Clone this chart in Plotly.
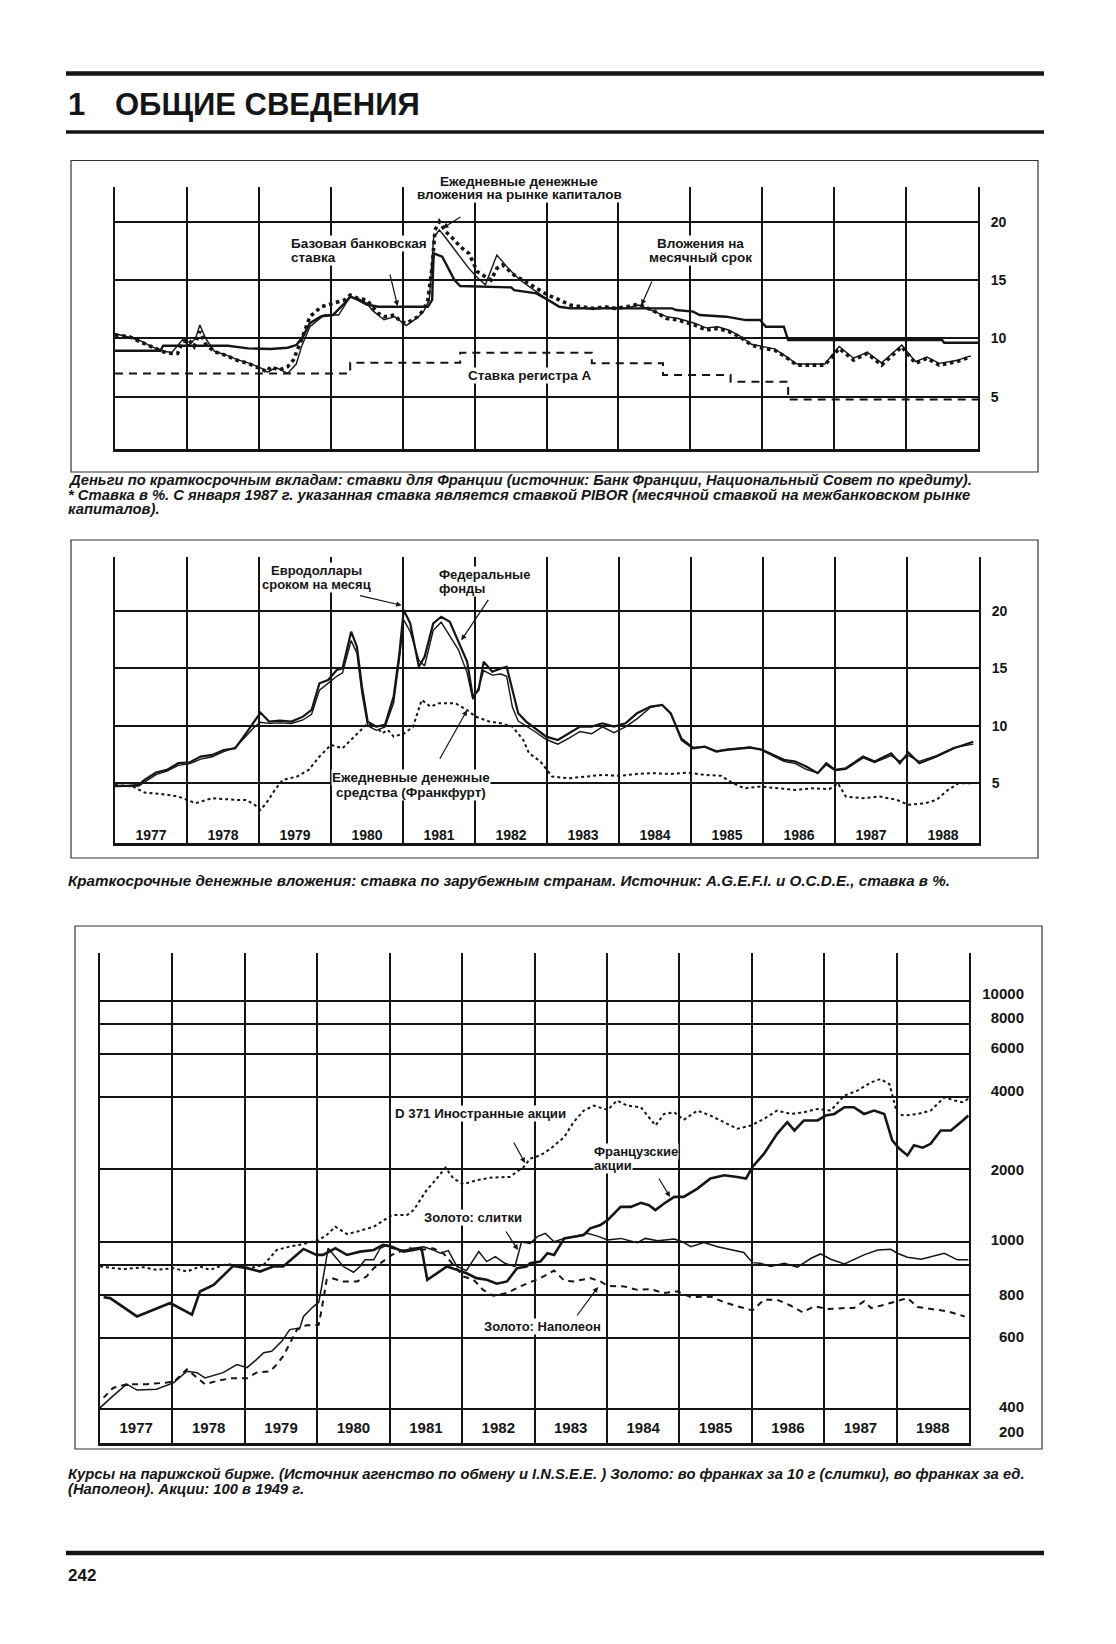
import plotly.graph_objects as go

W, H = 1116, 1644
OFF = 8  # browser body margin compensation
def px(x): return (x - OFF) / W
def py(y): return 1 - (y - OFF) / H

INK = "#151515"
FONT = "Liberation Sans, Arial, Helvetica, sans-serif"
NARROW = "Liberation Sans Narrow, Arial Narrow, Liberation Sans, Arial, sans-serif"

# ---------------- shared axis data ----------------
year_grid = list(range(1978, 1989))
year_mid = [y + 0.5 for y in range(1977, 1989)]
year_labels = [str(y) for y in range(1977, 1989)]
rate_ticks = [5, 10, 15, 20]
rate_labels = ["5", "10", "15", "20"]

# ---------------- chart 1: France ----------------
c1_money_market = [(1977.00,10.29),(1977.20,10.14),(1977.35,9.71),(1977.51,9.29),(1977.67,8.86),(1977.79,8.71),(1977.87,8.71),(1977.94,9.71),(1978.02,9.9),(1978.10,9.3),(1978.18,10.6),(1978.26,9.5),(1978.38,8.86),(1978.53,8.57),(1978.69,8.14),(1978.85,7.86),(1979.02,7.43),(1979.12,7.14),(1979.16,7.57),(1979.28,7.29),(1979.40,7.57),(1979.48,8.14),(1979.60,10.0),(1979.71,11.86),(1979.87,12.71),(1980.03,13.0),(1980.19,13.29),(1980.27,13.71),(1980.38,13.43),(1980.50,13.29),(1980.58,12.71),(1980.66,12.14),(1980.74,11.86),(1980.89,12.0),(1980.97,11.43),(1981.05,11.29),(1981.13,11.57),(1981.21,11.86),(1981.29,12.43),(1981.35,13.29),(1981.41,16.14),(1981.45,19.29),(1981.51,20.0),(1981.60,19.14),(1981.72,18.43),(1981.80,17.86),(1981.92,17.29),(1982.04,15.71),(1982.15,15.29),(1982.23,15.0),(1982.31,16.0),(1982.39,16.3),(1982.55,15.43),(1982.70,14.86),(1982.86,14.29),(1983.02,13.71),(1983.18,13.29),(1983.33,12.86),(1983.49,12.71),(1983.65,12.57),(1983.81,12.71),(1983.96,12.57),(1984.12,12.71),(1984.28,12.94),(1984.36,12.71),(1984.51,12.29),(1984.67,11.71),(1984.83,11.57),(1985.06,11.14),(1985.22,10.71),(1985.38,10.86),(1985.54,10.57),(1985.69,10.14),(1985.85,9.43),(1986.01,9.14),(1986.17,9.0),(1986.32,8.43),(1986.48,7.71),(1986.64,7.71),(1986.87,7.71),(1987.07,9.14),(1987.27,8.14),(1987.46,8.71),(1987.66,7.71),(1987.94,9.29),(1988.13,7.86),(1988.29,8.29),(1988.46,7.71),(1988.70,8.0),(1988.90,8.43)]
c1_monthly = [(1977.00,10.4),(1977.20,10.1),(1977.35,9.8),(1977.51,9.3),(1977.67,8.9),(1977.79,8.8),(1977.94,9.9),(1978.02,9.4),(1978.12,10.0),(1978.18,11.14),(1978.26,10.0),(1978.38,8.9),(1978.53,8.6),(1978.69,8.2),(1978.85,7.9),(1979.02,7.5),(1979.12,7.1),(1979.24,7.5),(1979.40,7.0),(1979.52,7.8),(1979.60,9.4),(1979.71,11.0),(1979.91,12.0),(1980.11,12.0),(1980.27,13.57),(1980.38,13.43),(1980.50,13.0),(1980.58,12.4),(1980.74,11.6),(1980.89,11.86),(1981.05,11.1),(1981.21,11.8),(1981.29,12.3),(1981.37,13.3),(1981.43,18.6),(1981.51,19.3),(1981.60,18.6),(1981.72,17.6),(1981.80,16.9),(1981.92,16.0),(1982.04,15.2),(1982.15,14.6),(1982.31,17.14),(1982.47,16.0),(1982.63,15.0),(1982.86,14.0),(1983.02,13.3),(1983.18,12.7),(1983.33,12.6),(1983.49,12.6),(1983.65,12.5),(1983.81,12.6),(1983.96,12.57),(1984.12,12.6),(1984.28,12.86),(1984.51,12.3),(1984.67,11.86),(1984.83,11.7),(1985.06,11.3),(1985.22,10.9),(1985.38,11.0),(1985.54,10.7),(1985.69,10.2),(1985.85,9.5),(1986.01,9.3),(1986.17,9.1),(1986.32,8.5),(1986.48,7.8),(1986.64,7.8),(1986.87,7.8),(1987.07,9.3),(1987.27,8.3),(1987.46,8.8),(1987.66,7.9),(1987.94,9.43),(1988.13,8.0),(1988.29,8.4),(1988.46,7.86),(1988.70,8.1),(1988.90,8.5)]
c1_base_rate = [(1977.00,8.94),(1977.63,8.94),(1977.67,9.37),(1978.57,9.37),(1978.85,9.14),(1979.16,9.09),(1979.40,9.2),(1979.52,9.43),(1979.60,10.0),(1979.71,11.3),(1979.87,11.9),(1980.03,12.0),(1980.19,13.0),(1980.27,13.57),(1980.38,13.3),(1980.50,12.9),(1980.66,12.71),(1981.35,12.71),(1981.41,13.3),(1981.43,17.29),(1981.55,17.0),(1981.64,16.0),(1981.72,15.0),(1981.80,14.49),(1982.51,14.37),(1982.55,14.14),(1982.86,13.86),(1983.02,13.3),(1983.18,12.71),(1983.33,12.57),(1984.75,12.57),(1984.80,12.43),(1985.04,12.29),(1985.13,12.0),(1985.50,11.86),(1985.77,11.57),(1985.97,11.57),(1986.05,11.0),(1986.30,11.0),(1986.36,9.86),(1988.50,9.86),(1988.53,9.63),(1989.00,9.63)]
c1_register_a = [(1977.0,7.0),(1980.27,7.91),(1981.80,8.77),(1983.63,7.86),(1984.62,6.86),(1985.56,6.29),(1986.36,4.77),(1989.0,4.77)]

# ---------------- chart 2: foreign rates ----------------
c2_eurodollar = [(1977.00,4.77),(1977.17,4.77),(1977.33,4.85),(1977.41,5.29),(1977.57,5.93),(1977.72,6.16),(1977.88,6.74),(1978.04,6.82),(1978.19,7.32),(1978.35,7.46),(1978.51,7.89),(1978.67,8.04),(1978.82,9.34),(1978.94,10.36),(1979.02,11.14),(1979.14,10.36),(1979.29,10.44),(1979.45,10.36),(1979.61,10.79),(1979.73,11.37),(1979.84,13.69),(1979.96,13.98),(1980.08,14.85),(1980.16,14.99),(1980.28,18.18),(1980.36,16.87),(1980.43,13.4),(1980.51,10.36),(1980.63,9.92),(1980.75,10.07),(1980.87,12.53),(1980.95,16.3),(1981.01,20.06),(1981.10,18.9),(1981.22,15.13),(1981.30,16.0),(1981.42,18.9),(1981.53,19.48),(1981.65,19.04),(1981.77,17.3),(1981.89,15.57),(1981.97,12.53),(1982.05,13.1),(1982.12,15.57),(1982.24,14.7),(1982.36,14.99),(1982.44,15.13),(1982.52,13.1),(1982.60,11.08),(1982.71,10.36),(1982.83,9.78),(1982.99,9.05),(1983.15,8.76),(1983.30,9.34),(1983.46,9.92),(1983.62,9.92),(1983.77,10.21),(1983.93,9.92),(1984.09,10.21),(1984.25,11.08),(1984.44,11.66),(1984.60,11.8),(1984.72,11.08),(1984.87,8.76),(1985.03,8.04),(1985.19,8.18),(1985.35,7.75),(1985.50,7.9),(1985.82,8.1),(1985.97,7.95),(1986.13,7.46),(1986.29,7.03),(1986.45,6.88),(1986.60,6.45),(1986.76,5.87),(1986.88,6.74),(1987.00,6.16),(1987.15,6.3),(1987.39,7.32),(1987.55,6.88),(1987.78,7.6),(1987.90,6.74),(1988.02,7.66),(1988.17,6.74),(1988.41,7.32),(1988.65,8.04),(1988.92,8.6)]
c2_fed_funds = [(1977.00,4.7),(1977.17,4.7),(1977.33,4.75),(1977.41,5.1),(1977.57,5.75),(1977.72,6.05),(1977.88,6.55),(1978.04,6.7),(1978.19,7.1),(1978.35,7.3),(1978.51,7.75),(1978.67,8.1),(1978.82,9.1),(1978.94,9.9),(1979.02,10.3),(1979.14,10.2),(1979.29,10.25),(1979.45,10.2),(1979.61,10.5),(1979.73,11.0),(1979.84,13.1),(1979.96,13.7),(1980.08,14.3),(1980.16,14.6),(1980.28,17.4),(1980.36,16.3),(1980.43,12.8),(1980.51,10.0),(1980.63,9.6),(1980.75,9.9),(1980.87,12.0),(1980.95,15.8),(1981.01,19.2),(1981.10,18.2),(1981.22,15.7),(1981.30,15.2),(1981.42,18.3),(1981.53,19.0),(1981.65,17.8),(1981.77,16.6),(1981.89,14.6),(1981.97,12.3),(1982.05,13.3),(1982.12,14.8),(1982.24,14.4),(1982.36,14.5),(1982.44,14.3),(1982.52,11.6),(1982.60,10.4),(1982.71,10.0),(1982.83,9.5),(1982.99,8.8),(1983.15,8.4),(1983.30,8.9),(1983.46,9.5),(1983.62,9.3),(1983.77,9.9),(1983.93,9.4),(1984.09,9.9),(1984.25,10.6),(1984.44,11.6),(1984.60,11.8),(1984.72,11.0),(1984.87,8.9),(1985.03,8.1),(1985.19,8.2),(1985.35,7.8),(1985.50,7.95),(1985.82,8.15),(1985.97,7.9),(1986.13,7.4),(1986.29,6.9),(1986.45,6.7),(1986.60,6.2),(1986.76,5.9),(1986.88,6.6),(1987.00,6.1),(1987.15,6.2),(1987.39,7.2),(1987.55,6.8),(1987.78,7.4),(1987.90,6.9),(1988.02,7.4),(1988.17,6.9),(1988.41,7.4),(1988.65,8.1),(1988.92,8.4)]
c2_frankfurt = [(1977.00,4.85),(1977.25,4.71),(1977.41,4.19),(1977.64,4.07),(1977.88,3.84),(1978.12,3.26),(1978.35,3.70),(1978.51,3.61),(1978.67,3.55),(1978.82,3.55),(1978.94,3.12),(1979.02,2.68),(1979.10,3.26),(1979.22,4.42),(1979.33,5.29),(1979.53,5.58),(1979.69,6.16),(1979.84,7.32),(1980.00,8.33),(1980.16,8.04),(1980.32,9.05),(1980.51,10.21),(1980.63,9.92),(1980.71,9.34),(1980.79,9.63),(1980.87,9.05),(1981.02,9.34),(1981.14,9.92),(1981.26,12.24),(1981.38,11.66),(1981.50,11.95),(1981.73,11.95),(1981.89,11.37),(1982.01,10.79),(1982.20,10.36),(1982.36,10.21),(1982.52,9.92),(1982.67,8.76),(1982.75,7.6),(1982.91,6.88),(1983.07,5.58),(1983.30,5.43),(1983.54,5.58),(1983.77,5.72),(1984.01,5.64),(1984.25,5.81),(1984.48,5.87),(1984.72,5.81),(1984.95,5.93),(1985.19,5.72),(1985.42,5.64),(1985.58,5.0),(1985.74,4.56),(1985.97,4.71),(1986.21,4.56),(1986.45,4.42),(1986.68,4.56),(1986.92,4.48),(1987.04,5.0),(1987.15,3.84),(1987.39,3.70),(1987.62,3.84),(1987.86,3.55),(1988.02,3.12),(1988.25,3.26),(1988.41,3.55),(1988.57,4.42),(1988.72,5.0),(1988.92,5.0)]

# ---------------- chart 3: Paris bourse and gold ----------------
c3_foreign_stocks = [(1977.00,791),(1977.32,771),(1977.60,786),(1977.78,766),(1978.02,778),(1978.20,754),(1978.38,791),(1978.52,766),(1978.75,811),(1978.93,791),(1979.07,778),(1979.26,804),(1979.44,927),(1979.62,957),(1979.81,981),(1980.02,1019),(1980.13,1069),(1980.25,1157),(1980.41,1079),(1980.55,1104),(1980.78,1157),(1981.03,1293),(1981.24,1293),(1981.33,1356),(1981.51,1640),(1981.65,1833),(1981.77,2036),(1981.88,1833),(1982.02,1738),(1982.20,1803),(1982.39,1849),(1982.66,1862),(1982.85,2047),(1982.94,2216),(1983.08,2287),(1983.22,2437),(1983.41,2723),(1983.54,3143),(1983.68,3508),(1983.82,3679),(1984.01,3531),(1984.14,3862),(1984.28,3679),(1984.47,3622),(1984.60,3242),(1984.67,3045),(1984.79,3398),(1984.93,3453),(1985.06,3211),(1985.25,3508),(1985.43,3346),(1985.62,3143),(1985.80,2950),(1985.99,3045),(1986.17,3242),(1986.35,3508),(1986.54,3398),(1986.72,3453),(1986.91,3566),(1987.09,3508),(1987.28,4049),(1987.46,4249),(1987.65,4596),(1987.78,4744),(1987.90,4523),(1988.01,3398),(1988.11,3346),(1988.29,3398),(1988.47,3508),(1988.66,3985),(1988.80,3862),(1988.91,3801),(1988.99,3924)]
c3_french_stocks = [(1977.05,590),(1977.14,585),(1977.51,491),(1977.97,558),(1978.27,499),(1978.38,623),(1978.57,664),(1978.84,796),(1979.03,779),(1979.21,754),(1979.39,791),(1979.53,791),(1979.81,936),(1979.99,884),(1980.08,884),(1980.25,942),(1980.41,884),(1980.59,912),(1980.78,927),(1980.91,972),(1981.03,956),(1981.19,912),(1981.33,927),(1981.44,942),(1981.52,697),(1981.65,742),(1981.79,791),(1981.93,766),(1982.06,742),(1982.20,708),(1982.34,697),(1982.48,671),(1982.62,686),(1982.76,779),(1982.89,791),(1982.94,816),(1983.08,829),(1983.18,898),(1983.27,884),(1983.41,1035),(1983.54,1052),(1983.68,1069),(1983.77,1139),(1983.91,1175),(1984.01,1233),(1984.19,1399),(1984.33,1399),(1984.47,1454),(1984.58,1422),(1984.67,1356),(1984.79,1445),(1984.93,1539),(1985.06,1539),(1985.25,1666),(1985.43,1833),(1985.62,1892),(1985.80,1862),(1985.92,1833),(1986.01,2047),(1986.17,2324),(1986.35,2810),(1986.49,3143),(1986.59,2902),(1986.72,3193),(1986.91,3193),(1987.02,3346),(1987.14,3398),(1987.28,3622),(1987.41,3622),(1987.55,3398),(1987.69,3508),(1987.83,3398),(1987.94,2638),(1988.04,2437),(1988.15,2287),(1988.24,2517),(1988.36,2461),(1988.47,2555),(1988.61,2902),(1988.75,2902),(1988.89,3143),(1988.99,3346)]
c3_gold_bullion = [(1977.00,205),(1977.18,230),(1977.37,257),(1977.51,243),(1977.78,245),(1978.02,261),(1978.20,291),(1978.34,287),(1978.45,273),(1978.70,287),(1978.89,310),(1979.03,301),(1979.16,325),(1979.26,347),(1979.37,352),(1979.51,387),(1979.62,433),(1979.76,440),(1979.81,491),(1979.95,541),(1980.02,562),(1980.06,650),(1980.15,942),(1980.25,870),(1980.36,791),(1980.50,749),(1980.59,791),(1980.66,843),(1980.78,843),(1980.87,942),(1980.96,972),(1981.03,942),(1981.19,921),(1981.33,942),(1981.47,956),(1981.60,927),(1981.70,898),(1981.81,921),(1981.93,791),(1982.06,761),(1982.23,912),(1982.34,829),(1982.46,870),(1982.59,816),(1982.73,791),(1982.82,1000),(1982.94,987),(1983.04,1052),(1983.15,1086),(1983.27,1003),(1983.41,1035),(1983.54,1052),(1983.73,1086),(1983.87,1058),(1984.01,1019),(1984.19,1035),(1984.42,994),(1984.53,1035),(1984.70,1013),(1984.93,1029),(1985.04,1003),(1985.16,956),(1985.34,994),(1985.53,956),(1985.71,927),(1985.89,904),(1986.01,821),(1986.12,816),(1986.26,791),(1986.45,816),(1986.63,786),(1986.82,856),(1986.95,892),(1987.09,848),(1987.28,811),(1987.41,848),(1987.55,884),(1987.74,927),(1987.92,933),(1988.01,898),(1988.15,864),(1988.34,848),(1988.47,870),(1988.66,898),(1988.84,843),(1988.99,843)]
c3_gold_napoleon = [(1977.05,226),(1977.18,248),(1977.37,257),(1977.64,257),(1977.92,261),(1978.02,263),(1978.20,296),(1978.45,257),(1978.61,265),(1978.80,272),(1979.03,272),(1979.16,287),(1979.35,291),(1979.44,310),(1979.53,336),(1979.62,381),(1979.72,433),(1979.85,451),(1980.02,453),(1980.06,524),(1980.13,697),(1980.20,708),(1980.36,686),(1980.55,686),(1980.68,719),(1980.78,779),(1980.91,829),(1981.03,884),(1981.14,912),(1981.28,942),(1981.42,927),(1981.60,942),(1981.74,898),(1981.88,803),(1982.02,719),(1982.16,697),(1982.29,633),(1982.43,598),(1982.62,614),(1982.80,654),(1982.94,679),(1983.08,708),(1983.27,761),(1983.41,692),(1983.54,686),(1983.77,708),(1983.91,686),(1984.01,658),(1984.24,654),(1984.42,633),(1984.60,637),(1984.79,614),(1984.97,624),(1985.16,590),(1985.43,594),(1985.62,562),(1985.80,541),(1986.01,520),(1986.17,576),(1986.35,576),(1986.54,544),(1986.70,511),(1986.86,541),(1987.05,527),(1987.28,532),(1987.41,532),(1987.55,567),(1987.65,532),(1987.83,549),(1988.01,567),(1988.15,585),(1988.29,537),(1988.47,527),(1988.70,516),(1988.94,491)]
c3_grid_values = [10000, 8000, 6000, 4000, 2000, 1000, 800, 600, 400, 203]
c3_label_values = [10690, 8550, 6400, 4250, 2000, 1020, 605, 404, 207, 163]
c3_label_text = ["10000", "8000", "6000", "4000", "2000", "1000", "800", "600", "400", "200"]

# ---------------- texts ----------------
title_num = "1"
title_text = "ОБЩИЕ СВЕДЕНИЯ"
cap1 = ["Деньги по краткосрочным вкладам: ставки для Франции (источник: Банк Франции, Национальный Совет по кредиту).",
        "* Ставка в %. С января 1987 г. указанная ставка является ставкой PIBOR (месячной ставкой на межбанковском рынке",
        "капиталов)."]
cap2 = ["Краткосрочные денежные вложения: ставка по зарубежным странам. Источник: A.G.E.F.I. и O.C.D.E., ставка в %."]
cap3 = ["Курсы на парижской бирже. (Источник агенство по обмену и I.N.S.E.E. ) Золото: во франках за 10 г (слитки), во франках за ед.",
        "(Наполеон). Акции: 100 в 1949 г."]
page_no = "242"

fig = go.Figure()

def unzip(pairs):
    return [p[0] for p in pairs], [p[1] for p in pairs]

def add(pairs, xa, ya, width, dash="solid", shape="linear"):
    x, y = unzip(pairs)
    fig.add_trace(go.Scatter(x=x, y=y, mode="lines", xaxis=xa, yaxis=ya,
                             line=dict(color=INK, width=width, dash=dash, shape=shape),
                             showlegend=False, hoverinfo="skip"))

add(c1_money_market, "x", "y", 3.6, dash="dot")
add(c1_monthly, "x", "y", 1.4)
add(c1_base_rate, "x", "y", 2.4)
add(c1_register_a, "x", "y", 2.0, dash="8px,6px", shape="hv")

add(c2_frankfurt, "x2", "y2", 2.0, dash="dot")
add(c2_fed_funds, "x2", "y2", 1.4)
add(c2_eurodollar, "x2", "y2", 2.2)

add(c3_foreign_stocks, "x3", "y3", 2.0, dash="dot")
add(c3_gold_bullion, "x3", "y3", 1.5)
add(c3_french_stocks, "x3", "y3", 2.6)
add(c3_gold_napoleon, "x4", "y4", 2.0, dash="6px,5px")

tickfont = dict(family=FONT, size=14, color=INK, weight="bold")
yearfont = dict(family=FONT, size=14, color=INK, weight="bold")

def xaxis_common(domain, anchor):
    return dict(domain=domain, anchor=anchor, range=[1977, 1989], zeroline=False,
                showline=True, linecolor=INK, linewidth=2.6, ticks="", fixedrange=True)

def yaxis_rate(domain, anchor, rng):
    return dict(domain=domain, anchor=anchor, range=rng, side="right",
                tickmode="array", tickvals=rate_ticks, ticktext=rate_labels,
                showgrid=True, gridcolor=INK, gridwidth=2.0, zeroline=False,
                showline=True, mirror=True, linecolor=INK, linewidth=1.8,
                ticks="", ticklabelstandoff=8, tickfont=tickfont, fixedrange=True)

x1 = xaxis_common([px(115), px(978)], "y")
x1.update(tickmode="array", tickvals=year_grid, showticklabels=False,
          showgrid=True, gridcolor=INK, gridwidth=1.6)
y1 = yaxis_rate([py(449), py(186.7)], "x", [0.52, 23.0])

x2 = xaxis_common([px(115), px(979)], "y2")
x2.update(tickmode="array", tickvals=year_mid, ticktext=year_labels,
          ticklabelposition="inside", showgrid=False, tickfont=yearfont,
          minor=dict(tickmode="array", tickvals=year_grid, showgrid=True,
                     gridcolor=INK, gridwidth=1.6, ticks=""))
y2 = yaxis_rate([py(843), py(556.7)], "x2", [-0.2, 24.7])

# chart 3: main axes carry the grid, overlay axes carry the year and value labels
x3 = xaxis_common([px(100), px(969)], "y3")
x3.update(tickmode="array", tickvals=year_grid, showticklabels=False,
          showgrid=True, gridcolor=INK, gridwidth=1.6)
x4 = dict(overlaying="x3", anchor="free", position=py(1409), side="bottom",
          range=[1977, 1989], tickmode="array", tickvals=year_mid, ticktext=year_labels,
          showgrid=False, zeroline=False, showline=False, ticks="", ticklabelstandoff=8,
          tickfont=dict(family=FONT, size=15, color=INK, weight="bold"), fixedrange=True)
c3_range = [2.166, 4.199]
y3 = dict(domain=[py(1443), py(953)], anchor="x3", type="log", range=c3_range,
          tickmode="array", tickvals=c3_grid_values, showticklabels=False,
          showgrid=True, gridcolor=INK, gridwidth=1.9, zeroline=False,
          showline=True, mirror=True, linecolor=INK, linewidth=1.8, ticks="", fixedrange=True)
y4 = dict(overlaying="y3", anchor="free", position=px(1024), side="left", type="log",
          range=c3_range, tickmode="array", tickvals=c3_label_values, ticktext=c3_label_text,
          showgrid=False, zeroline=False, showline=False, ticks="", ticklabeloverflow="allow",
          tickfont=dict(family=FONT, size=15, color=INK, weight="bold"), fixedrange=True)

shapes = []
def hline(y, x0, x1_, w):
    shapes.append(dict(type="line", xref="paper", yref="paper", x0=px(x0), x1=px(x1_),
                       y0=py(y), y1=py(y), line=dict(color=INK, width=w)))
def box(x0, y0, x1_, y1):
    shapes.append(dict(type="rect", xref="paper", yref="paper", x0=px(x0), x1=px(x1_),
                       y0=py(y1), y1=py(y0), line=dict(color="#333", width=1.2), layer="below"))

hline(73.4, 66, 1044, 4.5)
hline(132, 66, 1044, 3.5)
hline(1553, 66, 1044, 4.5)
box(71, 160.5, 1038, 472)
box(71, 540, 1038, 858)
box(75, 926, 1042, 1449)

ann = []
def text(t, x, y, size=13, xanchor="center", align="center", bg=None, style="normal", font=FONT):
    d = dict(text=t, x=px(x), y=py(y), xref="paper", yref="paper", showarrow=False,
             xanchor=xanchor, yanchor="middle", align=align,
             font=dict(family=font, size=size, color=INK, weight="bold", style=style))
    if bg:
        d.update(bgcolor=bg, borderpad=0)
    ann.append(d)

def label(lines, x, ys, size=13, xanchor="center"):
    # draw bottom line first so upper lines are never clipped by the lower box
    for t, y in reversed(list(zip(lines, ys))):
        text(t, x, y, size=size, xanchor=xanchor, align="center", bg="white")

def arrow(hx, hy, dx, dy):
    ann.append(dict(text="", x=px(hx), y=py(hy), xref="paper", yref="paper",
                    ax=dx, ay=dy, axref="pixel", ayref="pixel", showarrow=True,
                    arrowhead=2, arrowsize=0.9, arrowwidth=1.2, arrowcolor=INK))

# title
text(title_num, 66, 104, size=31, xanchor="left", font=NARROW)
text(title_text, 113, 104, size=31, xanchor="left", font=NARROW)
text(page_no, 66, 1575, size=17, xanchor="left", font=NARROW)

# chart 1 labels
label(["Ежедневные денежные", "вложения на рынке капиталов"], 519, [181, 195], size=13.5)
label(["Базовая банковская", "ставка"], 290, [243, 257], size=13.5, xanchor="left")
label(["Вложения на", "месячный срок"], 700, [243, 257], size=13.5)
label(["Ставка регистра А"], 529, [376], size=13.5)
arrow(443, 228, 19, -12)
arrow(397.6, 306, -8, -33)
arrow(641.5, 305, 11, -25)

# chart 2 labels
label(["Евродоллары", "сроком на месяц"], 316, [570, 584])
label(["Федеральные", "фонды"], 438, [574, 589], xanchor="left")
label(["Ежедневные денежные", "средства (Франкфурт)"], 411, [777, 792], size=13.5)
arrow(401.6, 605.3, -43, -10)
arrow(461.3, 640.3, 28, -42)
arrow(467, 710.2, -28, 50)

# chart 3 labels
label(["D 371 Иностранные акции"], 394, [1113], size=13.3, xanchor="left")
label(["Французские", "акции"], 593, [1151, 1165], xanchor="left")
label(["Золото: слитки"], 423, [1217], xanchor="left")
label(["Золото: Наполеон"], 483, [1326], xanchor="left")
arrow(525, 1163, -12, -22)
arrow(518, 1250, -13, -20)
arrow(670, 1197, -12, -20)
arrow(598, 1287, -22, 30)

# captions
for i, line in enumerate(cap1):
    text(line, 66, 480 + i * 14.5, size=14.8, xanchor="left", align="left", style="italic")
for i, line in enumerate(cap2):
    text(line, 66, 880 + i * 14.5, size=15.2, xanchor="left", align="left", style="italic")
for i, line in enumerate(cap3):
    text(line, 66, 1474 + i * 14.5, size=14.8, xanchor="left", align="left", style="italic")

fig.update_layout(
    width=W, height=H, margin=dict(l=0, r=0, t=0, b=0),
    paper_bgcolor="white", plot_bgcolor="rgba(0,0,0,0)", showlegend=False,
    xaxis=x1, yaxis=y1, xaxis2=x2, yaxis2=y2, xaxis3=x3, yaxis3=y3,
    xaxis4=x4, yaxis4=y4,
    shapes=shapes, annotations=ann, font=dict(family=FONT, color=INK),
)

fig.write_html("out.html")
